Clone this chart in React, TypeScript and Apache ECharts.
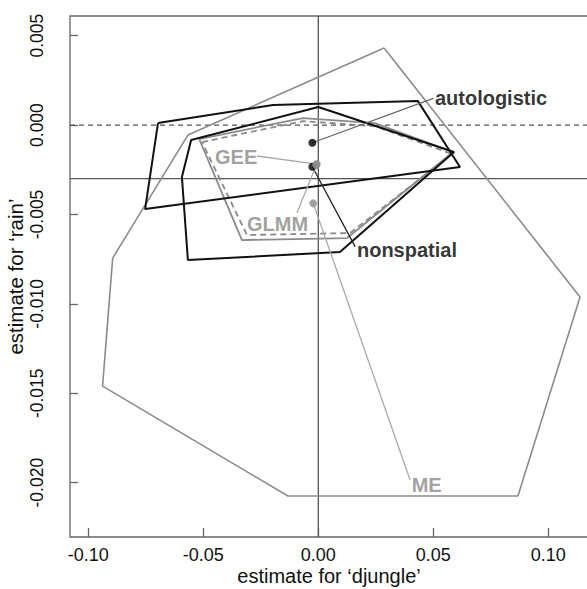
import React, { useEffect, useRef } from "react";
import * as echarts from "echarts";

// axis ticks
const xTicks = [-0.1, -0.05, 0, 0.05, 0.1];
const yTicks = [0.005, 0, -0.005, -0.01, -0.015, -0.02];
const X_MIN = -0.10796;
const X_MAX = 0.11726;
const Y_MIN = -0.02304;
const Y_MAX = 0.0061;

// reference values (true parameters)
const refX = 0;
const refYDashed = 0;
const refYSolid = -0.003;

// hull polygons
const autologisticX = [-0.0697, -0.0197, 0.0433, 0.0616, -0.0753];
const autologisticY = [0.00011, 0.00112, 0.00134, -0.00235, -0.0047];
const nonspatialX = [0.0, 0.059, 0.0094, -0.0567, -0.0593, -0.0553];
const nonspatialY = [0.00101, -0.00151, -0.0071, -0.00755, -0.00291, -0.00084];
const geeX = [-0.0518, -0.0067, 0.0246, 0.0586, 0.0125, -0.0332];
const geeY = [-0.00078, 0.00039, 0.00011, -0.00151, -0.00632, -0.00643];
const glmmX = [-0.0506, -0.0067, 0.0246, 0.0581, 0.0138, -0.031];
const glmmY = [-0.00095, 0.00022, -0.00006, -0.00162, -0.00604, -0.00615];
const meX = [0.0286, 0.1138, 0.0868, -0.0132, -0.0938, -0.0894, -0.0567];
const meY = [0.00431, -0.00962, -0.02075, -0.02075, -0.0146, -0.00744, -0.00056];

// point estimates
const models = ["autologistic", "nonspatial", "GEE", "GLMM", "ME"];
const estX = [-0.0026, -0.0026, -0.0007, -0.0009, -0.0022];
const estY = [-0.00099, -0.00233, -0.00218, -0.00225, -0.00438];

// label anchors (left edge, vertical centre) and leader ends
const labelX = [0.0507, 0.0168, -0.0449, -0.031, 0.0406];
const labelY = [0.00151, -0.00699, -0.00177, -0.00554, -0.02013];
const leaderX = [0.05, 0.016, -0.0267, -0.0093, 0.0399];
const leaderY = [0.00149, -0.0068, -0.00173, -0.00492, -0.01985];

const DARK = "#111111";
const GRAY = "#8a8a8a";
const leaderColor = ["#666666", "#222222", "#aaaaaa", "#aaaaaa", "#aaaaaa"];
const FONT = "'Liberation Sans', Arial, sans-serif";

function closed(xs: number[], ys: number[]) {
  const pts = xs.map((x, i) => [x, ys[i]]);
  pts.push([xs[0], ys[0]]);
  return pts;
}

function poly(name: string, xs: number[], ys: number[], color: string, width: number, dashed = false) {
  return {
    type: "line",
    name,
    data: closed(xs, ys),
    showSymbol: false,
    symbol: "none",
    silent: true,
    lineStyle: { color, width, type: dashed ? [6, 4] : "solid" },
    z: 3,
  };
}

function refLine(data: number[][], dashed: boolean) {
  return {
    type: "line",
    data,
    showSymbol: false,
    symbol: "none",
    silent: true,
    lineStyle: { color: "#555", width: 1.3, type: dashed ? [5, 4] : "solid" },
    z: 1,
  };
}

export default function App() {
  const ref = useRef<HTMLDivElement>(null);
  useEffect(() => {
    if (!ref.current) return;
    const chart = echarts.init(ref.current, null, { renderer: "svg" });
    const series: any[] = [];
    series.push(refLine([[refX, Y_MIN], [refX, Y_MAX]], false));
    series.push(refLine([[X_MIN, refYDashed], [X_MAX, refYDashed]], true));
    series.push(refLine([[X_MIN, refYSolid], [X_MAX, refYSolid]], false));
    series.push(poly("ME", meX, meY, "#8c8c8c", 1.6));
    series.push(poly("GEE", geeX, geeY, GRAY, 1.8));
    series.push(poly("GLMM", glmmX, glmmY, GRAY, 1.8, true));
    series.push(poly("autologistic", autologisticX, autologisticY, DARK, 2));
    series.push(poly("nonspatial", nonspatialX, nonspatialY, DARK, 2));
    models.forEach((m, i) => {
      series.push({
        type: "line",
        data: [
          [estX[i], estY[i]],
          [leaderX[i], leaderY[i]],
        ],
        symbol: "none",
        showSymbol: false,
        silent: true,
        lineStyle: { color: leaderColor[i], width: 1.3 },
        z: 4,
      });
    });
    series.push({
      type: "scatter",
      data: models.map((m, i) => ({
        value: [estX[i], estY[i]],
        itemStyle: { color: i < 2 ? "#000" : "#8c8c8c" },
      })),
      symbolSize: 8,
      silent: true,
      z: 5,
    });
    series.push({
      type: "scatter",
      data: models.map((m, i) => ({
        value: [labelX[i], labelY[i]],
        name: m,
        label: { color: i < 2 ? "#000" : "#888888" },
      })),
      symbolSize: 0,
      silent: true,
      z: 6,
      label: {
        show: true,
        position: "right",
        distance: 0,
        formatter: (p: any) => p.name,
        fontFamily: FONT,
        fontWeight: "bold",
        fontSize: 20,
      },
    });

    chart.setOption({
      animation: false,
      grid: {
        left: 70,
        top: 16,
        right: -1,
        bottom: 52,
        show: true,
        borderColor: "#666",
        borderWidth: 1.3,
        backgroundColor: "transparent",
        containLabel: false,
        outerBoundsMode: "none",
      },
      xAxis: {
        type: "value",
        min: X_MIN,
        max: X_MAX,
        splitLine: { show: false },
        axisLine: { show: false, onZero: false },
        axisTick: { show: true, inside: true, length: 9, customValues: xTicks, lineStyle: { color: "#666", width: 1.3 } },
        axisLabel: {
          customValues: xTicks,
          formatter: (v: number) => v.toFixed(2),
          fontFamily: FONT,
          fontSize: 18,
          color: "#111",
          margin: 9,
        },
        name: "estimate for \u2018djungle\u2019",
        nameLocation: "middle",
        nameGap: 29,
        nameMoveOverlap: false,
        nameTextStyle: { fontFamily: FONT, fontSize: 20, color: "#111" },
      },
      yAxis: {
        type: "value",
        min: Y_MIN,
        max: Y_MAX,
        splitLine: { show: false },
        axisLine: { show: false, onZero: false },
        axisTick: { show: true, inside: true, length: 8, customValues: yTicks, lineStyle: { color: "#666", width: 1.3 } },
        axisLabel: {
          customValues: yTicks,
          formatter: (v: number) => v.toFixed(3),
          rotate: 90,
          fontFamily: FONT,
          fontSize: 17.5,
          color: "#111",
          margin: 24,
        },
        name: "estimate for \u2018rain\u2019",
        nameLocation: "middle",
        nameGap: 44,
        nameMoveOverlap: false,
        nameTextStyle: { fontFamily: FONT, fontSize: 20.5, color: "#111" },
      },
      series,
    });
    return () => chart.dispose();
  }, []);
  return (
    <div
      ref={ref}
      style={{ position: "absolute", left: 0, top: 0, width: 587, height: 589, background: "#fff" }}
    />
  );
}
